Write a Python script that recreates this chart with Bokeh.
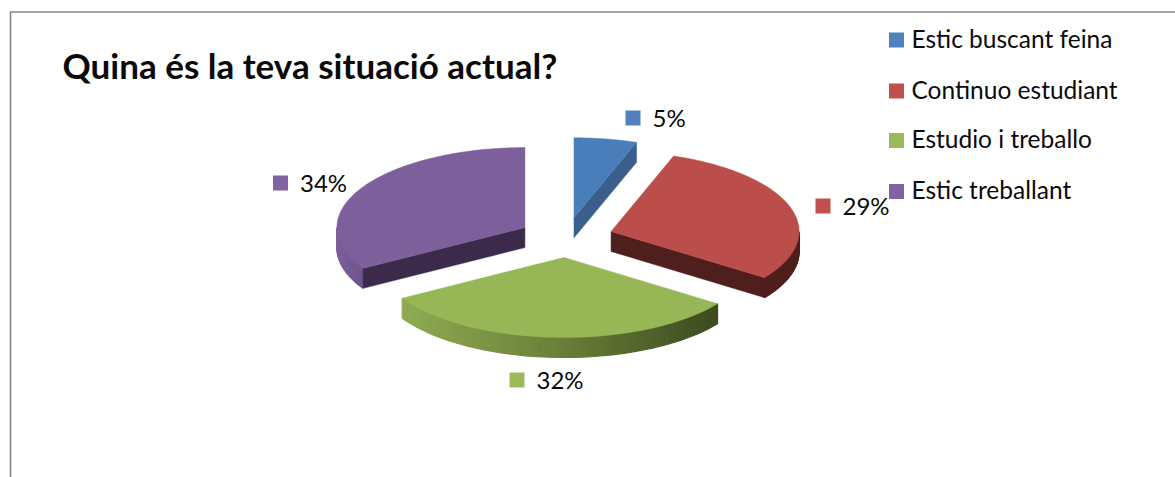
import math
from bokeh.plotting import figure
from bokeh.models import Range1d
from bokeh.core.properties import value
from bokeh.embed import file_html
from bokeh.resources import INLINE

TITLE = "Quina és la teva situació actual?"
categories = ["Estic buscant feina", "Continuo estudiant", "Estudio i treballo", "Estic treballant"]
shares = [5.4, 29.4, 31.7, 33.5]

top_colors = ["#4A7EBB", "#BB4E4B", "#97B656", "#7D609B"]
legend_colors = ["#4F81BD", "#C0504D", "#9BBB59", "#8064A2"]
cut_colors = ["#3A5F8B", "#4F1F1D", "#3D4A1F", "#3B2A4A"]
side_stops = [
    ["#3A5F8B", "#3A5F8B"],
    ["#4F1F1D", "#4F1F1D"],
    ["#8FAB52", "#6A7F38", "#3D4A1F"],
    ["#7D5F9D", "#6C528A"],
]

CX, CY = 565.5, 237
RX, RY = 188, 80
EX, EY = 47.3, 20
DEPTH = 20

WIDTH, HEIGHT = 1175, 477
p = figure(width=WIDTH, height=HEIGHT, output_backend="svg", toolbar_location=None,
           x_range=Range1d(0, WIDTH), y_range=Range1d(HEIGHT, 0),
           min_border=0, outline_line_color=None, background_fill_color="white",
           border_fill_color="white")
p.axis.visible = False
p.grid.visible = False


def hex_mix(stops, t):
    pos = t * (len(stops) - 1)
    i = min(int(pos), len(stops) - 2)
    f = pos - i
    a, b = stops[i], stops[i + 1]
    out = "#"
    for k in (1, 3, 5):
        out += "%02X" % round(int(a[k:k + 2], 16) * (1 - f) + int(b[k:k + 2], 16) * f)
    return out


# border of the chart area (open at the right and bottom of the crop)
p.line([1175, 10, 10], [11.5, 11.5, 477], line_color="#868686", line_width=1.6)

# slice angles from the values
total = sum(shares)
angles = []
acc = 0.0
for v in shares:
    a0 = acc / total * 2 * math.pi
    acc += v
    angles.append((a0, acc / total * 2 * math.pi))


def pt(ax, ay, a):
    return ax + RX * math.sin(a), ay - RY * math.cos(a)


geom = []
for a0, a1 in angles:
    mid = (a0 + a1) / 2
    geom.append((CX + EX * math.sin(mid), CY - EY * math.cos(mid)))

for i in [0, 3, 1, 2]:
    a0, a1 = angles[i]
    ax, ay = geom[i]
    # outer rim: visible part of the arc only
    lo, hi = max(a0, math.pi / 2), min(a1, 3 * math.pi / 2)
    if hi > lo:
        n = 60
        for j in range(n):
            s0 = lo + (hi - lo) * j / n
            s1 = lo + (hi - lo) * (j + 1) / n
            x0, y0 = pt(ax, ay, s0)
            x1, y1 = pt(ax, ay, s1)
            xm = (x0 + x1) / 2
            if i == 2:
                xl, _ = pt(ax, ay, a1)
                xr, _ = pt(ax, ay, a0)
                t = max(0.0, min(1.0, (xm - xl) / (xr - xl)))
            elif i == 3:
                t = max(0.0, min(1.0, (xm - (ax - RX)) / 30))
            else:
                t = 0.0
            c = hex_mix(side_stops[i], t)
            p.patch([x0, x1, x1, x0], [y0, y1, y1 + DEPTH, y0 + DEPTH],
                    fill_color=c, line_color=c, line_width=1.2)
    # cut faces that face the viewer
    if i in (0, 1):
        ex, ey = pt(ax, ay, a1)
        p.patch([ax, ex, ex, ax], [ay, ey, ey + DEPTH, ay + DEPTH],
                fill_color=cut_colors[i], line_color=cut_colors[i], line_width=0.5)
    if i == 3:
        ex, ey = pt(ax, ay, a0)
        p.patch([ax, ex, ex, ax], [ay, ey, ey + DEPTH, ay + DEPTH],
                fill_color=cut_colors[i], line_color=cut_colors[i], line_width=0.5)
    # top face
    n = 160
    xs, ys = [ax], [ay]
    for j in range(n + 1):
        x, y = pt(ax, ay, a0 + (a1 - a0) * j / n)
        xs.append(x)
        ys.append(y)
    p.patch(xs, ys, fill_color=top_colors[i], line_color=top_colors[i], line_width=0.5)

FONT = value("Lato")

p.text([62], [64], text=[TITLE], text_font=FONT, text_font_style="bold",
       text_font_size="35px", text_color="#0A0A0A", text_baseline="middle", text_align="left")

# data labels with square keys
key_x = [632.5, 822.5, 516.5, 280]
key_y = [117.5, 205.5, 379.5, 182.5]
for i, v in enumerate(shares):
    p.rect([key_x[i]], [key_y[i]], width=15, height=15, fill_color=legend_colors[i], line_color=None)
    p.text([key_x[i] + 19.5], [key_y[i] - 0.5], text=[f"{round(v)}%"], text_font=FONT,
           text_font_size="24px", text_color="#0A0A0A", text_baseline="middle", text_align="left")

# legend
leg_y = [39.5, 90.5, 140, 191]
for i, name in enumerate(categories):
    p.rect([896], [leg_y[i]], width=15, height=15, fill_color=legend_colors[i], line_color=None)
    p.text([911], [leg_y[i] - 2], text=[name], text_font=FONT, text_font_size="24.5px",
           text_color="#0A0A0A", text_baseline="middle", text_align="left")

open("out.html", "w").write(file_html(p, INLINE))
